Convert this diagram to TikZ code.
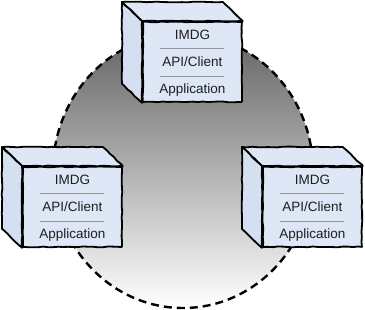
\documentclass[tikz,border=0pt]{standalone}
\usepackage{fontspec}
\setmainfont{Liberation Sans}
\usepackage{xcolor}
\usetikzlibrary{calc}
\usetikzlibrary{decorations.pathmorphing}
\definecolor{boxblue}{RGB}{221, 231, 246}
\definecolor{sideblue}{RGB}{212, 223, 241}
\definecolor{rulegray}{RGB}{150, 150, 150}
\definecolor{textgray}{RGB}{30, 30, 30}
\definecolor{ringgray}{RGB}{100, 100, 100}

\tikzset{
 sketch/.style={decorate, decoration={random steps, segment length=5pt, amplitude=0.4pt}},
 cubeface/.style={draw=black, line width=1.8pt, line join=round, sketch},
 layertext/.style={font=\fontsize{13.5}{15}\selectfont, text=textgray, inner sep=0pt},
 layerrule/.style={draw=rulegray, line width=0.6pt},
 ring/.style={dashed, dash pattern=on 8pt off 5pt, line width=2.4pt, top color=ringgray, bottom color=white}
}

\begin{document}
\begin{tikzpicture}[x=1pt, y=-1pt]
\useasboundingbox (0,0) rectangle (365,310);

 %ring behind the nodes
 \draw[ring] (183,171) ellipse [x radius=130, y radius=137];

 \foreach \name/\fx/\fy in {top/142/21, left/22/166, right/262/166} {
  %front face
  \node[cubeface, fill=boxblue, minimum width=99pt, minimum height=80pt, inner sep=0pt, anchor=north west] (\name) at (\fx,\fy) {};
  \coordinate (\name-bnw) at ($(\name.north west)+(-20,-19)$);
  \coordinate (\name-bne) at ($(\name.north east)+(-20,-19)$);
  \coordinate (\name-bsw) at ($(\name.south west)+(-20,-19)$);
  %top and side faces
  \draw[cubeface, fill=boxblue] (\name-bnw) -- (\name-bne) -- (\name.north east) -- (\name.north west) -- cycle;
  \draw[cubeface, fill=sideblue] (\name-bnw) -- (\name.north west) -- (\name.south west) -- (\name-bsw) -- cycle;
  %layers
  \node[layertext] (\name-imdg) at ($(\name.north)+(0,14)$) {IMDG};
  \node[layertext] (\name-api) at ($(\name.north)+(0,41)$) {API/Client};
  \node[layertext] (\name-app) at ($(\name.north)+(0,69)$) {Application};
  \draw[layerrule] ($(\name.north)+(-32,27)$) -- ($(\name.north)+(32,27)$);
  \draw[layerrule] ($(\name.north)+(-32,55)$) -- ($(\name.north)+(32,55)$);
 }
\end{tikzpicture}
\end{document}
